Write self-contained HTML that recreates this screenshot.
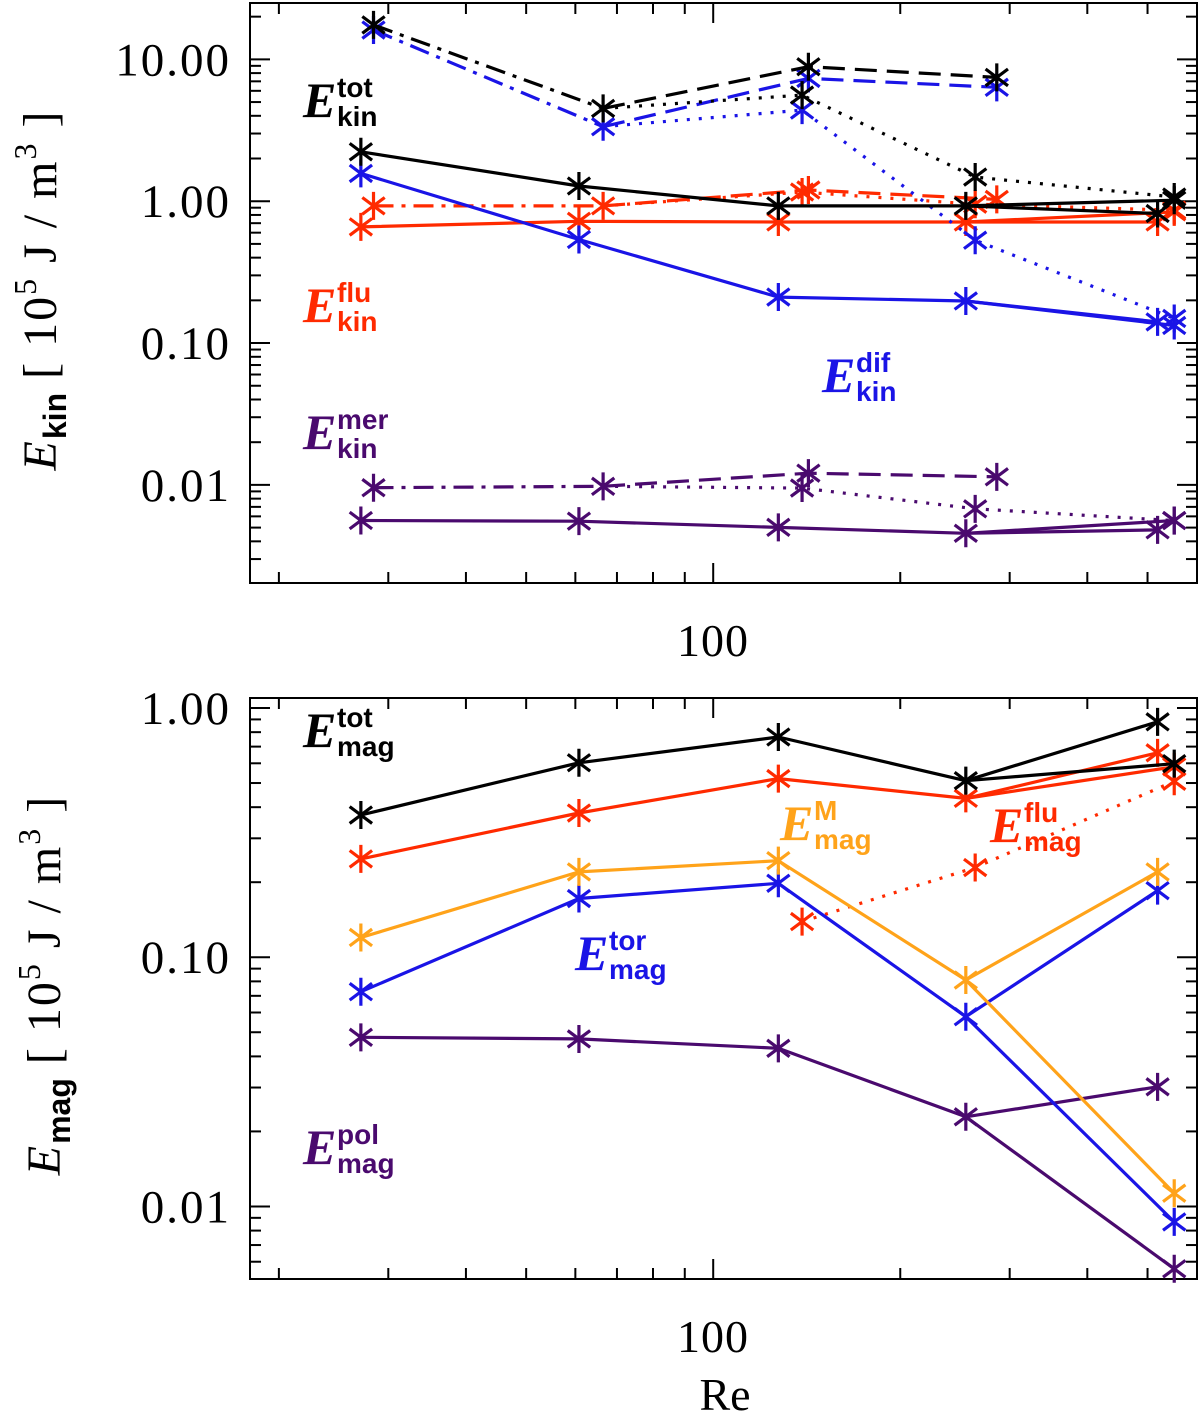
<!DOCTYPE html>
<html><head><meta charset="utf-8"><style>
html,body{margin:0;padding:0;background:#fff}
svg{display:block}
text{font-family:"Liberation Serif",serif}
text.sans,tspan.sans{font-family:"Liberation Sans",sans-serif}
</style></head><body>
<svg id="chart" width="1200" height="1416" viewBox="0 0 1200 1416" xmlns="http://www.w3.org/2000/svg">
<g id="top"></g>
<g id="bot"></g>
<g id="labels">
<text x="713" y="656" font-size="46" letter-spacing="1" text-anchor="middle">100</text>
<text x="713" y="1352" font-size="46" letter-spacing="1" text-anchor="middle">100</text>
<text x="725" y="1410" font-size="46" text-anchor="middle">Re</text>
<text transform="translate(56,290) rotate(-90)" font-size="48" text-anchor="middle" letter-spacing="2"><tspan font-style="italic">E</tspan><tspan class="sans" font-size="32" font-weight="bold" dy="10" letter-spacing="0">kin</tspan><tspan dy="-10" xml:space="preserve"> [ 10</tspan><tspan font-size="32" dy="-20">5</tspan><tspan dy="20" xml:space="preserve"> J / m</tspan><tspan font-size="32" dy="-20">3</tspan><tspan dy="20" xml:space="preserve"> ]</tspan></text>
<text transform="translate(60,985) rotate(-90)" font-size="48" text-anchor="middle" letter-spacing="2"><tspan font-style="italic">E</tspan><tspan class="sans" font-size="32" font-weight="bold" dy="10" letter-spacing="0">mag</tspan><tspan dy="-10" xml:space="preserve"> [ 10</tspan><tspan font-size="32" dy="-20">5</tspan><tspan dy="20" xml:space="preserve"> J / m</tspan><tspan font-size="32" dy="-20">3</tspan><tspan dy="20" xml:space="preserve"> ]</tspan></text>
</g>
</svg>
<script>
// ---- data ----
const reMain = [27.1, 60.8, 127.3, 255, 519];
const reBranch = 552;
const reShift = [28.4, 66.5];
const reDash = [142.3, 286];
const reDot = [139, 264, 552];
const yTicksTop = [10, 1, 0.1, 0.01];
const yTickLabelsTop = ["10.00", "1.00", "0.10", "0.01"];
const yTicksBot = [1, 0.1, 0.01];
const yTickLabelsBot = ["1.00", "0.10", "0.01"];

// top panel (kinetic)
const kinTotSolid = [2.23, 1.28, 0.927, 0.927, 0.819];
const kinTotBranch = 1.016;
const kinTotDashDot = [17.5, 4.51];
const kinTotDash = [8.87, 7.46];
const kinTotDot = [5.60, 1.48, 1.07];
const kinDifSolid = [1.57, 0.537, 0.211, 0.198, 0.141];
const kinDifBranch = 0.133;
const kinDifDashDot = [16.1, 3.35];
const kinDifDash = [7.34, 6.35];
const kinDifDot = [4.39, 0.531, 0.149];
const kinFluSolid = [0.659, 0.722, 0.714, 0.714, 0.714];
const kinFluBranch = 0.841;
const kinFluDashDot = [0.927, 0.927];
const kinFluDash = [1.20, 1.03];
const kinFluDot = [1.16, 0.952, 0.864];
const kinMerSolid = [0.00561, 0.00555, 0.00502, 0.00456, 0.00482];
const kinMerBranch = 0.00561;
const kinMerDashDot = [0.00955, 0.00977];
const kinMerDash = [0.0121, 0.0114];
const kinMerDot = [0.0095, 0.00678, 0.0056];

// bottom panel (magnetic)
const magTot = [0.372, 0.603, 0.765, 0.511, 0.880];
const magTotBranch = 0.598;
const magFlu = [0.248, 0.379, 0.521, 0.434, 0.661];
const magFluBranch = 0.581;
const magFluDot = [0.139, 0.229, 0.508];
const magM = [0.120, 0.220, 0.244, 0.081, 0.220];
const magMBranch = 0.0113;
const magTor = [0.0727, 0.172, 0.198, 0.0577, 0.185];
const magTorBranch = 0.00867;
const magPol = [0.0477, 0.0470, 0.0431, 0.0229, 0.0302];
const magPolBranch = 0.00562;

// ---- colors ----
const C = {black:'#000', blue:'#1a14e6', red:'#ff2a00', purple:'#4a0a6e', orange:'#ffa31a'};
const NS = 'http://www.w3.org/2000/svg';

// ---- axes ----
const X0 = 250, X1 = 1197, XMIN = 17.97, XMAX = 600.6;
function xs(v){ return X0 + (Math.log10(v)-Math.log10(XMIN))/(Math.log10(XMAX)-Math.log10(XMIN))*(X1-X0); }
function makeY(top, bot, vmin, vmax){
  return v => bot - (Math.log10(v)-Math.log10(vmin))/(Math.log10(vmax)-Math.log10(vmin))*(bot-top);
}
const TT=3, TB=583;
const ysT = makeY(TT, TB, Math.pow(10, -2-(TB-485)/141.7), Math.pow(10, 1+(59.3-TT)/141.7));
const BT=698, BB=1279;
const ysB = makeY(BT, BB, Math.pow(10, -2-(BB-1206.5)/249), Math.pow(10, (708-BT)/249));

function el(parent, tag, attrs){ const e=document.createElementNS(NS, tag); for(const k in attrs) e.setAttribute(k, attrs[k]); parent.appendChild(e); return e; }

function drawFrame(g, top, bot, ys, yt, ytl, nm){
  const f = el(g,'rect',{x:X0,y:top,width:X1-X0,height:bot-top,fill:'none',stroke:'#000','stroke-width':2});
  
  
  const xt=[20,30,40,50,60,70,80,90,100,200,300,400,500];
  xt.forEach(v=>{
    const L = v===100?20:11, x=xs(v);
    const t1 = el(g,'line',{x1:x,x2:x,y1:bot,y2:bot-L,stroke:'#000','stroke-width':2});
    
    
    const t2 = el(g,'line',{x1:x,x2:x,y1:top,y2:top+L,stroke:'#000','stroke-width':2});
    
    
  });
  for(let d=-4; d<=2; d++){
    for(let m=1; m<=9; m++){
      const v = m*Math.pow(10,d), y=ys(v);
      if(y<top+1||y>bot-1) continue;
      const L = m===1?20:11;
      const a = el(g,'line',{x1:X0,x2:X0+L,y1:y,y2:y,stroke:'#000','stroke-width':2});
      
      
      const b = el(g,'line',{x1:X1,x2:X1-L,y1:y,y2:y,stroke:'#000','stroke-width':2});
      
      
    }
  }
  yt.forEach((v,i)=>{
    const t = el(g,'text',{x:231,y:ys(v)+16,'font-size':47,'letter-spacing':2,'text-anchor':'end'});
    t.textContent = ytl[i];
    
    
  });
}

const dashes = {solid:null, dash:'22 10', dashdot:'20 8 4 8', dot:'3 9'};
function line(g, xv, yv, ys, color, style, nm){
  const pts = xv.map((x,i)=>xs(x).toFixed(1)+','+ys(yv[i]).toFixed(1)).join(' ');
  const a = {points:pts,fill:'none',stroke:color,'stroke-width':3.2,'stroke-linejoin':'round'};
  if(dashes[style]) a['stroke-dasharray']=dashes[style];
  const p = el(g,'polyline',a);
  
  
}
function star(g, xv, v, ys, color){
  const x=xs(xv), y=ys(v), r=14;
  const d = `M${x},${y-r}L${x},${y+r}M${x-r*0.8},${y-r*0.6}L${x+r*0.8},${y+r*0.6}M${x-r*0.8},${y+r*0.6}L${x+r*0.8},${y-r*0.6}`;
  const p = el(g,'path',{d:d,stroke:color,'stroke-width':3.2,fill:'none'});
  
  
}
function series(g, ys, color, nm, solid, branch, dd, dash, dot){
  if(dd){
    line(g, reShift, dd, ys, color, 'dashdot', nm+'-dashdot');
    line(g, [reShift[1]].concat(reDash), [dd[1]].concat(dash), ys, color, 'dash', nm+'-dashed');
    line(g, [reShift[1]].concat(reDot), [dd[1]].concat(dot), ys, color, 'dot', nm+'-dotted');
    reShift.forEach((x,i)=>star(g,x,dd[i],ys,color));
    reDash.forEach((x,i)=>star(g,x,dash[i],ys,color));
    reDot.forEach((x,i)=>star(g,x,dot[i],ys,color));
  }
  line(g, reMain, solid, ys, color, 'solid', nm+'-solid');
  line(g, [reMain[3], reBranch], [solid[3], branch], ys, color, 'solid', nm+'-branch');
  reMain.forEach((x,i)=>star(g,x,solid[i],ys,color));
  star(g, reBranch, branch, ys, color);
}
function label(g, x, base, color, sup, sub, nm){
  const t = el(g,'text',{x:x,y:base,fill:color,'font-size':50,'font-style':'italic','font-weight':'bold'});
  
  
  t.textContent='E';
  const s1 = el(g,'text',{x:x+34,y:base-20,fill:color,'font-size':28,'font-weight':'bold','class':'sans'});
  s1.textContent=sup;
  
  
  const s2 = el(g,'text',{x:x+34,y:base+9,fill:color,'font-size':28,'font-weight':'bold','class':'sans'});
  s2.textContent=sub;
  
  
}

const gT = document.getElementById('top'), gB = document.getElementById('bot');
drawFrame(gT, TT, TB, ysT, yTicksTop, yTickLabelsTop, 'top-panel');
drawFrame(gB, BT, BB, ysB, yTicksBot, yTickLabelsBot, 'bottom-panel');

series(gT, ysT, C.purple, 'kin-mer', kinMerSolid, kinMerBranch, kinMerDashDot, kinMerDash, kinMerDot);
series(gT, ysT, C.red, 'kin-flu', kinFluSolid, kinFluBranch, kinFluDashDot, kinFluDash, kinFluDot);
series(gT, ysT, C.blue, 'kin-dif', kinDifSolid, kinDifBranch, kinDifDashDot, kinDifDash, kinDifDot);
series(gT, ysT, C.black, 'kin-tot', kinTotSolid, kinTotBranch, kinTotDashDot, kinTotDash, kinTotDot);

line(gB, reDot, magFluDot, ysB, C.red, 'dot', 'mag-flu-dotted');
reDot.forEach((x,i)=>star(gB,x,magFluDot[i],ysB,C.red));
series(gB, ysB, C.purple, 'mag-pol', magPol, magPolBranch);
series(gB, ysB, C.blue, 'mag-tor', magTor, magTorBranch);
series(gB, ysB, C.orange, 'mag-m', magM, magMBranch);
series(gB, ysB, C.red, 'mag-flu', magFlu, magFluBranch);
series(gB, ysB, C.black, 'mag-tot', magTot, magTotBranch);

label(gT, 303, 117, C.black, 'tot', 'kin', 'label-kin-tot');
label(gT, 303, 322, C.red, 'flu', 'kin', 'label-kin-flu');
label(gT, 822, 392, C.blue, 'dif', 'kin', 'label-kin-dif');
label(gT, 303, 449, C.purple, 'mer', 'kin', 'label-kin-mer');
label(gB, 303, 747, C.black, 'tot', 'mag', 'label-mag-tot');
label(gB, 780, 840, C.orange, 'M', 'mag', 'label-mag-m');
label(gB, 990, 842, C.red, 'flu', 'mag', 'label-mag-flu');
label(gB, 575, 970, C.blue, 'tor', 'mag', 'label-mag-tor');
label(gB, 303, 1164, C.purple, 'pol', 'mag', 'label-mag-pol');
</script>
</body></html>
